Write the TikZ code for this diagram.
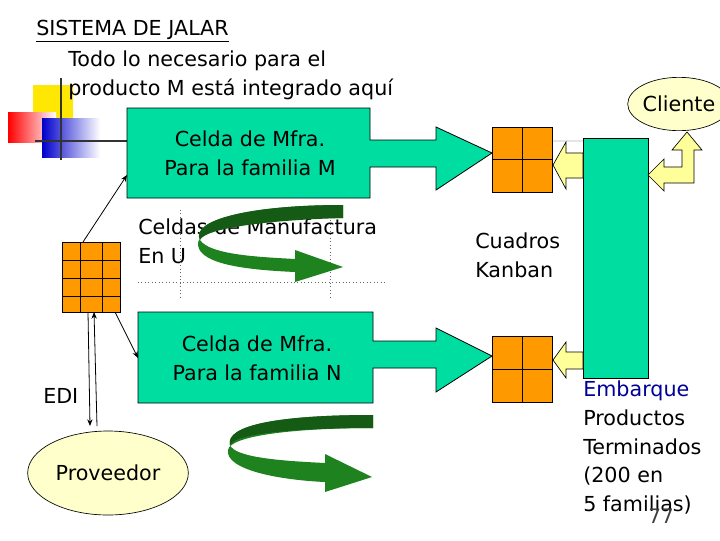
\documentclass[tikz,border=0pt]{standalone}
\usepackage{fontspec}
\setmainfont{DejaVu Sans}
\usetikzlibrary{shapes.geometric,arrows.meta}
\definecolor{cellg}{RGB}{0,221,160}
\definecolor{kor}{RGB}{255,153,0}
\definecolor{lyel}{RGB}{255,255,204}
\definecolor{aryel}{RGB}{255,255,153}
\definecolor{dgreen}{RGB}{30,130,30}
\definecolor{navyt}{RGB}{0,0,150}
\tikzset{
 txt/.style={font=\fontsize{15.5}{21.5}\selectfont,align=left,inner sep=0pt},
 cell/.style={fill=cellg,draw=black,line width=0.6pt},
 kb/.style={fill=kor,draw=black,line width=0.6pt},
 yarr/.style={fill=aryel,draw=black,line width=0.5pt},
 link/.style={-{Stealth[length=5pt,width=4pt]},line width=0.6pt},
 turn/.style={fill=dgreen,draw=none},
 dots/.style={dotted,line width=0.6pt,gray!80!black}
}
\begin{document}
\begin{tikzpicture}[x=0.75pt,y=-0.75pt]
\useasboundingbox (0,0) rectangle (720,540);
\fill[white] (0,0) rectangle (720,540);
% logo
\fill[yellow!90!orange] (33,85) rectangle (73,125);
\shade[left color=red,right color=white] (8,112) rectangle (56,142);
\shade[left color=blue!80!black,right color=white] (42,118) rectangle (100,157);
\draw[line width=1.2pt,black!80] (61,78) -- (61,160);
\draw[line width=1.2pt,black!80] (35,141) -- (128,141);
% title
\node[txt,anchor=west] (title) at (36,31) {\underline{SISTEMA DE JALAR}};
\node[txt,anchor=north west] (sub) at (68,51) {Todo lo necesario para el\\producto M está integrado aquí};
% faint line
\draw[gray!20,line width=1.5pt] (552,141) -- (583,141);
% box M with arrow
\draw[cell] (127,108) -- (370,108) -- (370,140) -- (436,140) -- (436,127) -- (492,153) -- (436,190) -- (436,167) -- (370,167) -- (370,198) -- (127,198) -- cycle;
\node[txt,align=center] (boxM) at (250,153) {Celda de Mfra.\\Para la familia M};
% box N with arrow
\draw[cell] (138,312) -- (373,312) -- (373,341) -- (436,341) -- (436,328) -- (492,356) -- (436,392) -- (436,368) -- (373,368) -- (373,403) -- (138,403) -- cycle;
\node[txt,align=center] (boxN) at (257,358) {Celda de Mfra.\\Para la familia N};
\coordinate (Mleft) at (127,175);
\coordinate (Nleft) at (138,358);
% kanban grids
\draw[kb] (492,127) rectangle (552,192);
\draw[line width=0.6pt] (522,127) -- (522,192) (492,159) -- (552,159);
\draw[kb] (492,336) rectangle (552,402);
\draw[line width=0.6pt] (522,336) -- (522,402) (492,369) -- (552,369);
\draw[kb] (62,242) rectangle (120,312);
\draw[line width=0.6pt] (80,242)--(80,312) (102,242)--(102,312) (62,260)--(120,260) (62,278)--(120,278) (62,296)--(120,296);
\coordinate (klTop) at (83,242);
\coordinate (klBR) at (115,312);
\coordinate (klB1) at (88,312);
\coordinate (klB2) at (94,312);
% connectors
\draw[link] (klTop) -- (Mleft);
\draw[link] (klBR) -- (Nleft);
\coordinate (pv1) at (90,426);
\coordinate (pv2) at (97,426);
\draw[link] (klB1) -- (pv1);
\draw[link] (pv2) -- (klB2);
% text
\node[txt,anchor=west] (edi) at (43,396) {EDI};
\node[draw=black,fill=lyel,ellipse,minimum width=84pt,minimum height=63pt,line width=0.5pt,font=\fontsize{15.5}{19}\selectfont] (prov) at (108,473) {Proveedor};
\node[txt,anchor=north west] (celU) at (138,219) {Celdas de Manufactura\\En U};
% dotted
\draw[dots] (138,282) -- (385,282);
\draw[dots] (180,210) -- (180,300);
\draw[dots] (330,210) -- (330,300);
% green turning arrows
\fill[turn] (343,205) .. controls (250,205) and (190,220) .. (200,240) .. controls (210,255) and (260,257) .. (295,259)
 -- (295,250) -- (343,267) -- (295,282) -- (295,272) .. controls (250,270) and (200,265) .. (198,245)
 .. controls (195,225) and (270,218) .. (343,218) -- cycle;
\fill[dgreen!70!black] (343,205) .. controls (250,205) and (190,220) .. (200,240) .. controls (205,228) and (270,220) .. (343,218) -- cycle;
\fill[turn] (373,415) .. controls (280,415) and (225,425) .. (230,445) .. controls (235,458) and (285,461) .. (325,463)
 -- (325,454) -- (372,477) -- (325,492) -- (325,482) .. controls (280,480) and (225,470) .. (228,450)
 .. controls (230,435) and (300,428) .. (373,428) -- cycle;
\fill[dgreen!70!black] (373,415) .. controls (280,415) and (225,425) .. (230,445) .. controls (235,433) and (300,428) .. (373,428) -- cycle;
% shipping bar
\draw[cell] (583,138) rectangle (648,378);
% yellow arrows to kanbans
\draw[yarr] (583,153) -- (566,153) -- (566,142) -- (553,165) -- (566,189) -- (566,178) -- (583,178) -- cycle;
\draw[yarr] (583,352) -- (566,352) -- (566,342) -- (553,360) -- (566,378) -- (566,369) -- (583,369) -- cycle;
% Cliente
\node[draw=black,fill=lyel,ellipse,minimum width=63pt,minimum height=40pt,inner sep=0pt,line width=0.5pt,font=\fontsize{15.5}{19}\selectfont] (cli) at (679,104) {Cliente};
\draw[yarr] (648,175) -- (664,159) -- (664,167) -- (682,167) -- (682,150) -- (672,150) -- (687,132) -- (702,150) -- (694,150) -- (694,183) -- (664,183) -- (664,191) -- cycle;
% Kanban text
\node[txt,anchor=north west] (cuad) at (475,233) {Cuadros\\Kanban};
\node[txt,anchor=north west] (emb) at (583,381) {\textcolor{navyt}{Embarque}\\Productos\\Terminados\\(200 en\\5 familias)};
\node[font=\fontsize{15}{17}\selectfont,inner sep=0pt,text=black!75] (pg) at (661,516) {77};
\end{tikzpicture}
\end{document}
